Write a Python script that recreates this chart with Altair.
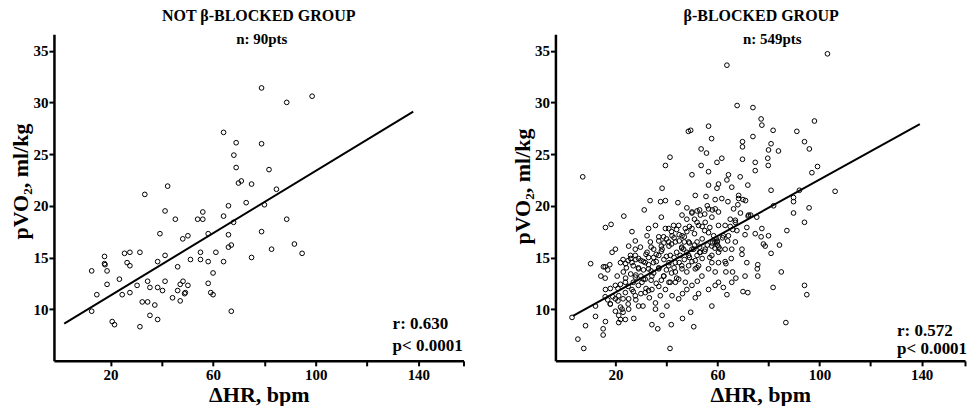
import altair as alt
import pandas as pd

FONT = "Liberation Serif"

# ---------------- NOT beta-blocked group (90 pts) ----------------
nb_hr = [78.9, 88.7, 98.6, 64.1, 69.0, 78.9, 68.1, 69.0, 81.8, 69.9,
         71.0, 75.0, 84.7, 33.4, 42.3, 41.3, 72.9, 66.0, 80.0, 56.0,
         54.0, 56.0, 45.3, 64.1, 68.0, 88.7, 39.3, 58.1, 50.2, 48.2,
         66.0, 78.9, 67.1, 66.0, 91.7, 82.8, 94.7, 75.0, 17.7, 25.5,
         27.6, 31.5, 41.3, 55.1, 61.1, 12.7, 17.7, 17.9, 18.7, 26.5,
         27.6, 38.4, 46.2, 51.2, 55.1, 58.1, 64.1, 60.0, 14.7, 18.7,
         23.5, 24.6, 27.6, 30.4, 34.5, 35.4, 38.4, 40.3, 41.3, 44.2,
         46.2, 47.2, 48.3, 49.2, 50.2, 47.2, 58.1, 59.1, 60.0, 12.7,
         32.4, 34.5, 37.3, 35.4, 38.4, 20.7, 21.6, 31.5, 67.1, 48.9]
nb_vo2 = [31.4, 30.0, 30.6, 27.1, 26.1, 26.0, 24.9, 23.7, 23.5, 22.2,
          22.4, 22.1, 21.6, 21.1, 21.9, 19.5, 20.3, 20.0, 20.1, 19.4,
          18.7, 18.7, 18.7, 19.0, 18.4, 18.7, 17.3, 17.3, 17.1, 16.8,
          17.2, 17.5, 16.2, 16.0, 16.3, 15.8, 15.4, 15.0, 15.1, 15.4,
          15.5, 15.5, 15.2, 15.5, 15.5, 13.7, 14.4, 14.3, 13.7, 14.5,
          14.2, 14.6, 14.1, 14.8, 14.8, 14.6, 14.6, 13.5, 11.4, 12.4,
          12.9, 11.4, 11.6, 12.3, 12.7, 12.1, 12.1, 11.8, 12.7, 11.1,
          11.8, 12.4, 12.7, 11.6, 12.3, 10.8, 12.5, 11.6, 11.4, 9.8,
          10.7, 10.7, 10.4, 9.4, 9.0, 8.8, 8.5, 8.3, 9.8, 11.5]
nb_line_hr = [2.0, 138.0]
nb_line_vo2 = [8.6, 29.1]

# ---------------- beta-blocked group (549 pts) ----------------
b_outer_hr = [103.1, 63.7, 67.7, 73.9, 77.1, 77.4, 98.0, 56.5, 48.6, 49.5,
              91.1, 81.8, 57.7, 73.9, 94.1, 69.8, 96.0, 53.6, 55.7, 69.8,
              81.0, 83.9, 80.0, 41.4, 61.7, 59.8, 69.8, 74.8, 79.7, 39.6,
              53.6, 79.9, 74.8, 97.0, 99.2, 56.5, 50.0, 64.3, 68.9, 7.2,
              63.7, 56.5, 60.4, 71.9, 65.6, 38.3, 106.1, 81.0, 92.1, 59.8,
              51.3, 55.5, 68.3, 68.3, 89.8, 89.8, 59.1, 33.6, 37.7, 39.6,
              44.5, 82.0, 95.9, 72.2, 89.8, 31.3, 48.0, 50.0, 53.3, 46.1,
              75.4, 38.0, 23.3, 94.1, 18.3, 16.1, 26.5, 87.2, 77.4, 71.5,
              67.6, 74.8, 77.1, 80.0, 70.8, 78.0, 84.3, 78.7, 81.0, 67.0,
              69.6, 69.6, 65.4, 71.5, 75.8, 75.6, 75.8, 63.3, 63.3, 65.9,
              67.2, 70.8, 85.0, 70.0, 71.9, 63.7, 57.8, 81.8, 94.1, 95.0,
              86.8, 52.1, 59.1, 52.6, 49.5, 46.3, 50.7, 41.9, 41.4, 34.3,
              36.6, 38.3, 40.2, 3.0, 8.3, 5.3, 7.6, 12.2, 15.2, 15.2,
              16.1, 10.3, 12.2, 14.3, 15.3, 17.8, 16.1, 18.7, 20.0, 20.7,
              18.0, 21.3, 21.3, 23.9, 27.2, 29.1, 30.8, 35.7, 35.7, 33.3,
              26.5]
b_outer_vo2 = [34.7, 33.6, 29.7, 29.5, 28.4, 27.8, 28.2, 27.7, 27.2, 27.3,
               27.2, 27.3, 26.5, 26.7, 26.2, 26.2, 25.5, 25.5, 25.1, 25.7,
               26.0, 25.3, 25.4, 24.7, 24.6, 24.2, 24.5, 24.2, 24.6, 23.9,
               23.9, 23.9, 23.4, 23.2, 23.8, 23.3, 23.0, 23.0, 22.8, 22.8,
               22.5, 22.0, 22.1, 22.0, 21.8, 21.7, 21.4, 21.5, 21.5, 21.7,
               21.0, 20.9, 21.0, 20.7, 20.8, 20.4, 20.6, 20.5, 20.4, 20.5,
               20.3, 20.0, 19.8, 19.1, 19.3, 19.6, 19.8, 19.3, 19.1, 19.1,
               18.9, 18.9, 19.0, 18.4, 18.2, 17.9, 17.5, 17.6, 17.8, 17.9,
               17.6, 17.3, 17.0, 17.1, 17.2, 16.3, 16.2, 16.1, 15.4, 16.5,
               15.8, 15.3, 14.9, 14.5, 14.3, 13.9, 13.2, 14.4, 13.6, 13.6,
               13.0, 13.2, 13.6, 11.7, 11.6, 11.4, 10.3, 12.1, 12.3, 11.4,
               8.7, 12.7, 12.3, 11.5, 9.7, 9.1, 8.3, 8.5, 6.2, 8.5,
               8.1, 9.4, 10.3, 9.2, 8.4, 7.1, 6.2, 9.3, 8.1, 7.5,
               8.8, 14.4, 10.3, 13.2, 14.1, 14.3, 11.9, 15.5, 15.8, 13.2,
               10.5, 9.4, 8.7, 9.0, 9.1, 10.3, 10.3, 10.6, 10.0, 11.1,
               11.9]

b_core_hr = [26.5, 29.1, 24.3, 23.1, 23.9, 30.4, 31.7, 33.0, 34.9, 37.0,
             38.3, 40.9, 43.5, 46.1, 47.4, 50.0, 52.6, 55.2, 57.8, 60.4,
             63.0, 33.0, 35.7, 37.0, 39.6, 42.2, 44.8, 33.7, 32.4, 29.8,
             27.8, 31.7, 29.1, 27.8, 34.3, 37.0, 38.9, 40.9, 41.5, 43.5,
             45.4, 46.7, 48.7, 50.7, 48.7, 52.0, 53.3, 55.2, 57.8, 59.8,
             58.5, 56.5, 60.4, 57.8, 56.5, 59.1, 53.9, 51.3, 48.7, 46.1,
             43.5, 44.8, 47.4, 50.0, 41.5, 39.6, 42.2, 44.8, 48.0, 37.6,
             34.3, 31.7, 27.8, 25.2, 23.9, 21.3, 22.6, 25.2, 20.0, 22.0,
             25.9, 27.8, 25.2, 27.8, 32.4, 35.0, 38.9, 42.8, 40.9, 48.0,
             52.0, 56.5, 59.1, 61.7, 64.1, 66.3, 65.0, 67.0, 60.4, 62.3,
             64.3, 63.0, 65.6, 60.4, 57.8, 51.3, 52.6, 43.5, 46.3, 51.3,
             56.5, 60.4, 62.3, 65.6]
b_core_vo2 = [14.5, 14.9, 14.0, 13.6, 12.6, 12.6, 12.9, 13.9, 14.5, 15.2,
              15.8, 16.5, 16.5, 17.1, 17.8, 17.8, 18.1, 18.4, 18.9, 19.4,
              18.1, 17.8, 18.1, 17.0, 17.8, 17.1, 18.1, 16.5, 15.5, 16.0,
              15.2, 14.5, 13.9, 13.1, 13.2, 13.9, 13.2, 14.2, 15.2, 14.5,
              15.2, 15.8, 15.2, 15.8, 16.5, 16.5, 15.5, 15.8, 16.1, 16.5,
              17.1, 17.4, 14.5, 14.5, 13.9, 13.6, 13.2, 13.9, 14.2, 13.9,
              13.6, 12.9, 12.6, 12.3, 12.6, 11.9, 11.3, 11.0, 11.9, 11.3,
              11.9, 11.6, 11.3, 11.0, 11.6, 11.3, 10.0, 10.0, 12.3, 14.5,
              15.2, 15.8, 16.1, 16.6, 17.1, 15.8, 17.0, 18.1, 17.8, 18.7,
              18.4, 19.7, 19.7, 20.7, 20.4, 19.7, 18.7, 18.4, 18.1, 17.1,
              17.1, 15.8, 15.8, 15.5, 15.2, 14.7, 14.2, 12.6, 11.5, 11.1,
              11.9, 12.6, 12.1, 12.6]

b_dense_hr = [48, 49, 50, 51, 47, 46, 52, 53, 54, 55,
              45, 44, 43, 42, 41, 40, 39, 38, 37, 36,
              35, 34, 33, 32, 31, 30, 29, 28, 27, 26,
              25, 24, 23, 22, 21, 20, 22, 23, 25, 27,
              28, 30, 31, 33, 34, 36, 37, 38, 39, 40,
              41, 42, 43, 44, 45, 46, 47, 48, 49, 50,
              51, 52, 53, 54, 55, 56, 57, 58, 59, 60,
              61, 62, 63, 64, 65, 66, 67, 68, 69, 70,
              71, 72, 73, 59, 59.5, 60, 60.5, 57, 58, 56,
              55, 54, 53, 52, 51, 50, 49, 48, 47, 46,
              45, 44, 43, 42, 41, 40, 39, 38, 37, 36,
              35, 34, 33, 32, 31, 30, 29, 28, 27, 26,
              25, 24, 23, 22, 21, 20, 19, 18, 17, 16,
              16, 17, 16, 18]
b_dense_vo2 = [15.5, 15.0, 15.8, 16.2, 14.8, 15.9, 15.2, 16.0, 16.8, 15.6,
               14.5, 15.5, 14.0, 13.5, 14.5, 13.8, 14.8, 12.8, 14.0, 12.5,
               13.5, 12.8, 14.3, 12.0, 13.8, 14.7, 12.3, 14.8, 12.6, 14.9,
               12.2, 13.0, 11.0, 10.2, 10.8, 9.8, 9.0, 9.7, 10.5, 11.7,
               10.9, 11.5, 12.9, 11.8, 13.7, 14.6, 12.2, 15.6, 13.2, 15.1,
               12.6, 16.3, 15.0, 13.0, 16.6, 14.2, 17.0, 13.6, 16.4, 14.6,
               17.3, 14.0, 15.5, 14.9, 17.6, 16.2, 15.0, 16.4, 15.9, 16.2,
               15.8, 16.9, 14.6, 16.6, 18.0, 17.7, 18.6, 20.1, 19.3, 20.6,
               20.5, 19.0, 19.1, 16.5, 16.8, 16.6, 16.0, 17.9, 19.6, 20.0,
               19.2, 18.0, 19.6, 19.5, 18.7, 19.4, 18.0, 17.5, 16.5, 16.0,
               17.2, 17.7, 16.9, 17.5, 16.1, 16.8, 16.4, 16.1, 16.6, 15.3,
               15.0, 16.0, 15.0, 15.3, 14.6, 13.2, 14.0, 13.3, 14.2, 13.4,
               14.7, 14.4, 14.8, 12.4, 12.0, 11.0, 11.2, 10.5, 10.9, 11.2,
               13.0, 13.8, 14.1, 12.0]
b_line_hr = [3.4, 139.3]
b_line_vo2 = [9.35, 27.9]

y_ticks = [10, 15, 20, 25, 30, 35]
x_labeled = [20, 60, 100, 140]
x_minor = [40, 80, 120]


def panel(hr, vo2, line_hr, line_vo2, xmax, xmin, title, sub, r_txt, p_txt,
          title_x, sub_x, ann_x, r_y, p_y, ytitle_y):
    pts = pd.DataFrame({"hr": hr, "vo2": vo2})
    ln = pd.DataFrame({"hr": line_hr, "vo2": line_vo2})
    tick_vals = sorted(x_labeled + x_minor) + [xmax]
    lab_expr = "indexof([20, 60, 100, 140], datum.value) >= 0 ? datum.label : ''"
    xs = alt.Scale(domain=[xmin, xmax], nice=False, zero=False)
    ys = alt.Scale(domain=[5, 36.6], nice=False, zero=False)
    xax = alt.Axis(values=tick_vals, labelExpr=lab_expr, title="ΔHR, bpm",
                   titlePadding=2, labelPadding=2)
    yax = alt.Axis(values=y_ticks, title="pVO₂, ml/kg", titleY=ytitle_y,
                   titlePadding=0, labelPadding=1)
    scatter = alt.Chart(pts).mark_point(
        shape="circle", filled=False, size=22, strokeWidth=1, color="black", opacity=1
    ).encode(x=alt.X("hr:Q", scale=xs, axis=xax), y=alt.Y("vo2:Q", scale=ys, axis=yax))
    line = alt.Chart(ln).mark_line(color="black", strokeWidth=2).encode(
        x=alt.X("hr:Q", scale=xs), y=alt.Y("vo2:Q", scale=ys))

    def txt(s, x, y, size, align="center"):
        return alt.Chart(pd.DataFrame({"t": [s]})).mark_text(
            font=FONT, fontWeight="bold", fontSize=size, align=align,
            baseline="middle", color="black"
        ).encode(x=alt.value(x), y=alt.value(y), text="t:N")

    layers = [scatter, line,
              txt(title, title_x, -18, 16),
              txt(sub, sub_x, 5, 15),
              txt(r_txt, ann_x, r_y, 17, "left"),
              txt(p_txt, ann_x, p_y, 17, "left")]
    return alt.layer(*layers).properties(width=410, height=327)


left = panel(nb_hr, nb_vo2, nb_line_hr, nb_line_vo2, 157.6, -2.0,
             "NOT β-BLOCKED GROUP", "n: 90pts", "r: 0.630", "p< 0.0001",
             205, 208, 339, 290, 312, 147)
right = panel(b_outer_hr + b_core_hr + b_dense_hr,
              b_outer_vo2 + b_core_vo2 + b_dense_vo2,
              b_line_hr, b_line_vo2, 157.0, -3.5,
              "β-BLOCKED GROUP", "n: 549pts", "r: 0.572", "p< 0.0001",
              206, 217, 342, 297, 315, 152)

chart = alt.hconcat(left, right, spacing=47).properties(
    padding={"left": 2, "top": 0, "right": 0, "bottom": 0},
    background="white",
).configure_view(stroke=None).configure_axis(
    grid=False,
    domainColor="black", domainWidth=2.5,
    tickColor="black", tickWidth=2, tickSize=5,
    labelFont=FONT, labelFontSize=15, labelFontWeight="bold", labelColor="black",
    titleFont=FONT, titleFontSize=22, titleFontWeight="bold", titleColor="black",
)

chart.save("out.html", embed_options={"renderer": "svg", "actions": False})
